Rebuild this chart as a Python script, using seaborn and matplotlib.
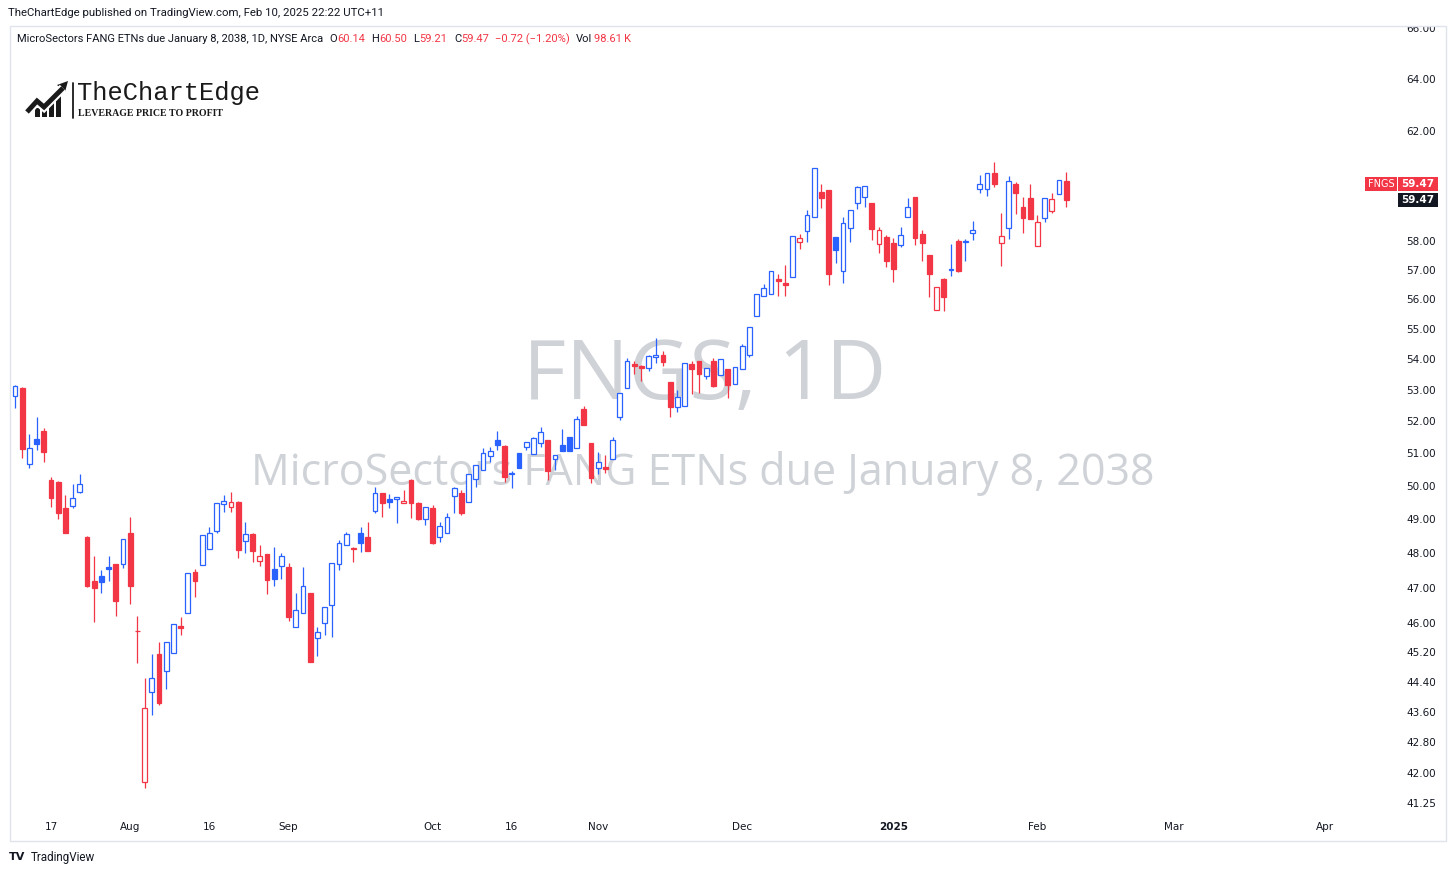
import numpy as np
import pandas as pd
import matplotlib
matplotlib.use("Agg")
import matplotlib.pyplot as plt
import seaborn as sns
from matplotlib.patches import Rectangle, Polygon
from matplotlib.ticker import NullLocator, NullFormatter, FixedLocator, FixedFormatter
from matplotlib.transforms import Bbox

# ---------------- data ----------------
opens = [52.81, 53.06, 50.67, 51.45, 51.69, 50.18, 50.12, 49.33, 49.39, 49.82,
         48.47, 47.20, 47.34, 47.60, 47.68, 47.68, 48.58, 45.80, 41.78, 44.13,
         45.15, 44.68, 45.17, 45.92, 46.30, 47.46, 47.65, 48.12, 48.64, 49.45,
         49.36, 49.51, 48.35, 48.55, 47.77, 47.97, 47.54, 47.63, 47.60, 45.89,
         46.30, 46.86, 45.60, 46.00, 46.52, 47.68, 48.23, 48.15, 48.58, 48.47,
         49.24, 49.79, 49.60, 49.60, 49.48, 50.18, 49.48, 49.00, 49.33, 48.47,
         48.58, 49.70, 49.79, 49.51, 50.21, 50.49, 50.91, 51.40, 51.22, 50.37,
         51.00, 51.19, 50.97, 51.31, 51.40, 50.82, 51.25, 51.50, 51.16, 52.38,
         51.31, 50.55, 50.58, 50.82, 52.13, 53.06, 53.85, 53.78, 53.69, 54.08,
         54.13, 53.25, 52.45, 52.48, 53.85, 53.94, 53.44, 53.94, 53.47, 53.66,
         53.19, 53.66, 54.13, 55.43, 56.10, 56.17, 56.69, 56.55, 56.76, 57.97,
         58.35, 58.84, 59.74, 59.82, 58.14, 56.97, 58.46, 59.35, 59.56, 59.35,
         57.90, 58.14, 57.93, 57.86, 58.84, 59.56, 58.25, 57.50, 55.62, 56.69,
         57.00, 58.00, 57.97, 58.28, 59.85, 59.85, 60.43, 57.93, 58.46, 60.06,
         59.20, 59.52, 57.83, 58.81, 59.06, 59.67, 60.14]
highs = [53.15, 53.10, 51.60, 52.12, 51.78, 50.27, 50.14, 49.73, 50.06, 50.37,
         48.50, 47.91, 47.51, 47.91, 47.70, 48.41, 49.06, 46.22, 44.50, 45.15,
         45.49, 45.49, 45.97, 46.17, 47.43, 47.54, 48.52, 48.76, 49.48, 49.73,
         49.82, 49.53, 48.91, 48.60, 48.23, 47.98, 48.18, 48.00, 47.71, 46.86,
         47.60, 46.86, 45.89, 46.46, 47.71, 48.38, 48.61, 48.18, 48.76, 48.91,
         49.97, 49.80, 49.76, 49.67, 49.88, 50.20, 49.50, 49.36, 49.42, 48.91,
         49.18, 49.97, 49.88, 50.37, 50.64, 51.16, 51.19, 51.69, 51.24, 50.46,
         51.00, 51.34, 51.50, 51.81, 51.40, 50.94, 51.75, 51.50, 52.16, 52.48,
         51.31, 51.03, 50.94, 51.50, 52.90, 54.03, 53.94, 53.80, 54.13, 54.70,
         54.25, 53.25, 53.00, 53.88, 53.94, 53.94, 53.69, 54.03, 54.00, 53.66,
         53.75, 54.50, 55.07, 56.17, 56.52, 56.97, 56.86, 57.17, 58.18, 58.25,
         59.11, 60.64, 60.03, 59.82, 58.14, 58.84, 59.11, 59.96, 59.98, 59.35,
         58.50, 58.20, 58.10, 58.50, 59.52, 59.56, 58.40, 57.50, 56.41, 56.72,
         57.90, 58.07, 58.07, 58.70, 60.39, 60.43, 60.85, 59.00, 60.32, 60.10,
         59.56, 60.06, 58.92, 59.55, 59.70, 60.20, 60.50]
lows = [52.42, 50.85, 50.55, 51.09, 50.72, 49.36, 49.00, 48.58, 49.33, 49.80,
        47.03, 46.05, 46.86, 47.20, 46.22, 47.57, 46.55, 44.90, 41.62, 43.52,
        43.79, 44.21, 45.17, 45.68, 46.30, 46.75, 47.65, 48.12, 48.58, 49.21,
        49.21, 47.86, 48.00, 47.74, 47.63, 46.83, 47.06, 47.26, 46.08, 45.89,
        46.30, 44.93, 45.09, 45.69, 45.63, 47.51, 48.23, 47.74, 48.03, 48.06,
        49.18, 49.06, 49.33, 48.88, 49.48, 49.03, 48.98, 48.82, 48.26, 48.32,
        48.58, 49.18, 49.12, 49.51, 49.97, 50.49, 50.72, 51.09, 50.12, 49.94,
        50.55, 51.09, 50.97, 51.19, 50.18, 50.49, 51.06, 51.06, 51.16, 51.87,
        50.09, 50.37, 50.40, 50.82, 52.03, 53.06, 53.50, 53.28, 53.62, 53.88,
        53.78, 52.13, 52.30, 52.48, 52.87, 52.90, 53.35, 53.10, 53.47, 52.74,
        53.19, 53.66, 54.07, 55.43, 56.10, 56.17, 56.10, 56.10, 56.76, 57.71,
        57.97, 58.84, 59.16, 56.48, 57.24, 56.55, 57.97, 59.13, 59.20, 58.04,
        57.60, 57.10, 56.58, 57.79, 58.84, 57.86, 57.32, 56.07, 55.62, 55.59,
        56.80, 56.93, 57.32, 58.04, 59.71, 59.60, 59.93, 57.13, 58.07, 58.96,
        58.28, 58.78, 57.83, 58.67, 59.00, 59.67, 59.21]
closes = [53.13, 51.12, 51.16, 51.28, 51.03, 49.64, 49.18, 48.60, 49.64, 50.06,
          47.05, 47.00, 47.17, 47.54, 46.63, 48.41, 47.06, 45.78, 43.71, 44.51,
          43.84, 45.49, 45.97, 45.88, 47.43, 47.20, 48.52, 48.60, 49.48, 49.54,
          49.51, 48.09, 48.55, 48.06, 47.91, 47.23, 47.26, 47.91, 46.17, 46.38,
          47.06, 44.93, 45.77, 46.46, 47.71, 48.29, 48.55, 48.12, 48.29, 48.06,
          49.79, 49.48, 49.50, 49.67, 49.54, 49.48, 49.00, 49.36, 48.29, 48.79,
          49.06, 49.94, 49.18, 50.37, 50.64, 51.00, 51.06, 51.25, 50.27, 50.40,
          50.55, 51.34, 51.47, 51.66, 50.46, 50.94, 51.06, 51.08, 52.06, 51.87,
          50.24, 50.73, 50.52, 51.40, 52.90, 53.94, 53.78, 53.72, 54.10, 54.13,
          53.91, 52.45, 52.77, 53.88, 53.66, 53.50, 53.69, 53.12, 54.00, 53.16,
          53.75, 54.43, 55.07, 56.17, 56.38, 56.97, 56.62, 56.48, 58.18, 58.11,
          58.92, 60.64, 59.52, 56.86, 57.68, 58.64, 59.11, 59.93, 59.97, 58.43,
          58.38, 57.32, 57.04, 58.21, 59.20, 58.10, 57.93, 56.86, 56.41, 56.07,
          57.04, 56.95, 58.00, 58.39, 60.06, 60.43, 60.06, 58.18, 60.14, 59.71,
          58.81, 58.78, 58.67, 59.55, 59.50, 60.19, 59.47]

first_date = "2024-07-10"
holidays = ["2024-09-02", "2024-11-28", "2024-12-25", "2025-01-01",
            "2025-01-09", "2025-01-20", "2025-02-17", "2025-04-18"]
tick_dates = ["2024-07-17", "2024-08-01", "2024-08-16", "2024-09-03",
              "2024-10-01", "2024-10-16", "2024-11-01", "2024-12-02",
              "2025-01-02", "2025-02-03", "2025-03-03", "2025-04-01"]
tick_labels = ["17", "Aug", "16", "Sep", "Oct", "16", "Nov", "Dec",
               "2025", "Feb", "Mar", "Apr"]
price_ticks = [41.25, 42.00, 42.80, 43.60, 44.40, 45.20, 46.00, 47.00, 48.00,
               49.00, 50.00, 51.00, 52.00, 53.00, 54.00, 55.00, 56.00, 57.00,
               58.00, 62.00, 64.00, 66.00]
symbol = "FNGS"
interval = "1D"
long_name = "MicroSectors FANG ETNs due January 8, 2038"
exchange = "NYSE Arca"
volume_text = "98.61\u2009K"
publisher_line = "TheChartEdge published on TradingView.com, Feb 10, 2025 22:22 UTC+11"

# ---------------- styling ----------------
sns.set_theme(style="white")
plt.rcParams["font.family"] = ["DejaVu Sans"]

UP = "#2962ff"
DN = "#f23645"
TXT = "#131722"
WM = "#cfd2d7"

W, H = 1456, 874
fig = plt.figure(figsize=(W / 100, H / 100), dpi=100)
fig.patch.set_facecolor("white")

cal = pd.bdate_range(first_date, "2025-04-30")
cal = cal[~cal.isin(pd.to_datetime(holidays))]

n = len(closes)
df = pd.DataFrame({"x": np.arange(n), "open": opens, "high": highs,
                   "low": lows, "close": closes, "date": cal[:n]})
prev = df["close"].shift(1).fillna(df["open"])
df["color"] = np.where(df["close"] >= prev, UP, DN)
df["face"] = np.where(df["close"] > df["open"], "white", df["color"])
df["bottom"] = df[["open", "close"]].min(axis=1)
df["height"] = (df["close"] - df["open"]).abs()

ax_left, ax_right, ax_top, ax_bot = 10, 1389.5, 25, 812
ax = fig.add_axes([ax_left / W, (H - ax_bot) / H,
                   (ax_right - ax_left) / W, (ax_bot - ax_top) / H])
ax.set_facecolor("white")
ax.set_yscale("log")
ax.set_xlim(-0.7, 190.9)
ax.set_ylim(41.03, 66.12)

# watermark
ax.text(705 / W, 1 - 378 / H, f"{symbol}, {interval}", transform=fig.transFigure,
        ha="center", va="center", fontsize=60, family="Open Sans",
        color=WM, zorder=1, clip_on=False)
ax.text(703 / W, 1 - 473 / H, long_name, transform=fig.transFigure,
        ha="center", va="center", fontsize=31, family="Open Sans",
        color=WM, zorder=1, clip_on=False)

# candles
ax.vlines(df["x"], df["low"], df["high"], colors=df["color"], linewidth=0.9, zorder=3)
ax.bar(df["x"], df["height"], bottom=df["bottom"], width=0.68,
       color=df["face"], edgecolor=df["color"], linewidth=0.9, zorder=4)
ax.set_xlim(-0.7, 190.9)
ax.set_ylim(41.03, 66.12)

for s in ax.spines.values():
    s.set_visible(False)
ax.grid(False)

# axes ticks
tick_pos = [cal.get_loc(pd.Timestamp(d)) for d in tick_dates]
ax.xaxis.set_major_locator(FixedLocator(tick_pos))
ax.xaxis.set_major_formatter(FixedFormatter(tick_labels))
ax.yaxis.set_major_locator(FixedLocator(price_ticks))
ax.yaxis.set_major_formatter(FixedFormatter([f"{p:.2f}" for p in price_ticks]))
ax.yaxis.set_minor_locator(NullLocator())
ax.yaxis.set_minor_formatter(NullFormatter())
ax.yaxis.tick_right()
ax.tick_params(axis="y", which="both", length=0, pad=12, labelsize=7.5,
               labelcolor=TXT, right=False, left=False, labelright=True, labelleft=False)
ax.tick_params(axis="x", which="both", length=0, pad=7.5, labelsize=7.5,
               labelcolor=TXT, bottom=False)
for lbl, t in zip(ax.get_xticklabels(), tick_labels):
    if t == "2025":
        lbl.set_fontweight("bold")
clip = Bbox.from_extents(0, 0, W, H - 26)
for lbl in ax.get_yticklabels():
    lbl.set_clip_on(True)
    lbl.set_clip_box(clip)

# ---------------- overlay (pixel coords) ----------------
ov = fig.add_axes([0, 0, 1, 1], zorder=10)
ov.set_xlim(0, W)
ov.set_ylim(H, 0)
ov.axis("off")
ov.patch.set_alpha(0)

ov.add_patch(Rectangle((9.5, 25.5), 1436.5, 815, fill=False,
                       edgecolor="#e0e3eb", linewidth=1))

ov.text(8, 13, publisher_line, ha="left", va="center", fontsize=8.2,
        family="Roboto", color=TXT)

o, h, l, c = opens[-1], highs[-1], lows[-1], closes[-1]
chg = closes[-1] - closes[-2]
pct = chg / closes[-2] * 100
pieces = [(17, f"{long_name}, {interval}, {exchange}", TXT),
          (329, "O", TXT), (337, f"{o:.2f}", DN),
          (371, "H", TXT), (379, f"{h:.2f}", DN),
          (413, "L", TXT), (419, f"{l:.2f}", DN),
          (454, "C", TXT), (461, f"{c:.2f}", DN),
          (495, f"{chg:+.2f} ({pct:+.2f}%)".replace("-", "\u2212"), DN),
          (576, "Vol", TXT), (594, volume_text, DN)]
for x0, s, col in pieces:
    ov.text(x0, 39, s, ha="left", va="center", fontsize=8.0,
            family=["Roboto", "DejaVu Sans"], color=col)

# logo
for bx, top in [(35, 108), (42, 104), (49, 100), (56, 95)]:
    ov.add_patch(Rectangle((bx, top), 5, 117 - top, color="#1a1a1a", lw=0))
ov.plot([27, 37, 44, 63], [112, 101, 107, 88], color="white", lw=6.5,
        solid_capstyle="butt", solid_joinstyle="miter")
ov.plot([27, 37, 44, 63], [112, 101, 107, 88], color="#1a1a1a", lw=3.5,
        solid_capstyle="butt", solid_joinstyle="miter")
ov.add_patch(Polygon([[57, 85], [68, 81], [65, 92]], closed=True, color="#1a1a1a", lw=0))
ov.plot([73, 73], [83, 118], color="#1a1a1a", lw=1.3)
ov.text(77, 93, "TheChartEdge", ha="left", va="center", fontsize=18.4,
        family="Liberation Mono", color="#1a1a1a")
ov.text(78, 113.5, "LEVERAGE PRICE TO PROFIT", ha="left", va="center",
        fontsize=7.1, family="Liberation Serif", fontweight="bold", color="#1a1a1a")

# last price labels (y from data through the axes scale)
py = H - ax.transData.transform((0, closes[-1]))[1]
ov.add_patch(Rectangle((1398, py - 7), 40, 14, color="#131722", lw=0))
ov.text(1418, py, f"{closes[-1]:.2f}", ha="center", va="center", fontsize=7.5,
        color="white", fontweight="bold")
ov.add_patch(Rectangle((1398, py - 23), 40, 14, color=DN, lw=0))
ov.text(1418, py - 16, f"{closes[-1]:.2f}", ha="center", va="center", fontsize=7.5,
        color="white", fontweight="bold")
ov.add_patch(Rectangle((1365, py - 23), 32, 14, color=DN, lw=0))
ov.text(1381, py - 16, symbol, ha="center", va="center", fontsize=7,
        color="white")

# TradingView footer
ov.text(9, 857, "TV", ha="left", va="center", fontsize=8, fontweight="bold",
        family="DejaVu Sans", color=TXT)
ov.text(31, 857, "TradingView", ha="left", va="center", fontsize=8.4,
        family="Roboto", color=TXT)

fig.savefig("out.png", dpi=100, facecolor="white")
